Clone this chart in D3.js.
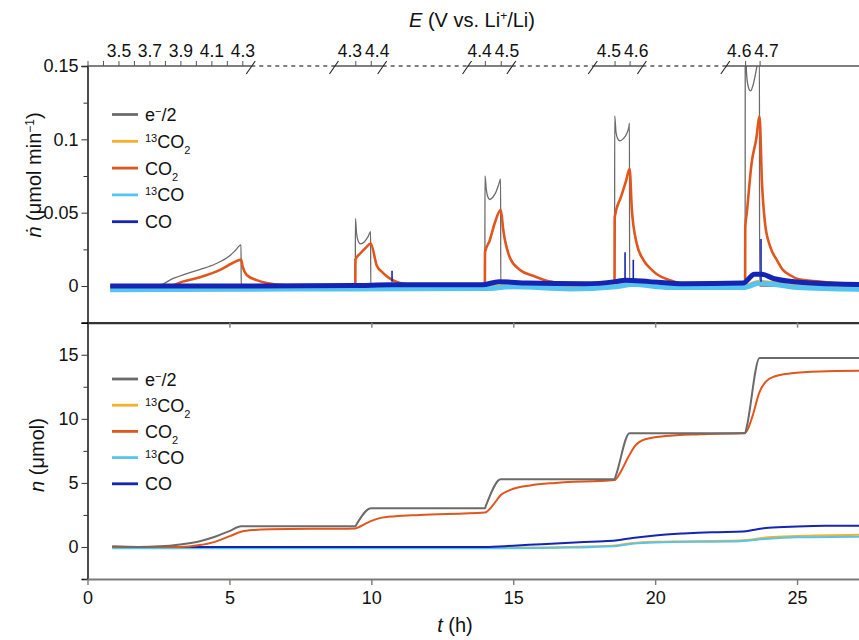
<!DOCTYPE html>
<html>
<head>
<meta charset="utf-8">
<script src="https://cdn.jsdelivr.net/npm/d3@7"></script>
<style>
  body { margin: 0; background: #fff; }
  svg { font-family: "Liberation Sans", Arial, "DejaVu Sans", sans-serif; }
</style>
</head>
<body>
<div id="chart"></div>
<script>
// ---- data: [t (h), value] ----
// top panel: rates (umol min-1)
const eRate = [[0.8,0],[2.45,0],[3.0,0.005],[3.5,0.0085],[4.0,0.0115],[4.5,0.015],[5.0,0.0205],[5.2,0.024],[5.41,0.028],[5.415,0],
  [9.435,0],[9.44,0.046],[9.48,0.036],[9.54,0.0305],[9.62,0.0287],[9.75,0.030],[9.88,0.0335],[9.975,0.037],[9.98,0],
  [14.0,0],[14.005,0.075],[14.05,0.066],[14.1,0.061],[14.17,0.059],[14.28,0.0605],[14.4,0.0645],[14.5,0.070],[14.555,0.073],[14.56,0],
  [18.57,0],[18.575,0.116],[18.62,0.105],[18.68,0.1005],[18.76,0.099],[18.88,0.1005],[19.0,0.104],[19.08,0.109],[19.095,0.111],[19.1,0],
  [23.17,0],[23.175,0.17],[23.22,0.145],[23.28,0.136],[23.36,0.133],[23.45,0.137],[23.55,0.146],[23.63,0.155],[23.675,0.16],[23.68,0],[27.2,0]];
const co2Rate = [[0.8,0],[2.9,0],[3.35,0.003],[3.96,0.006],[4.67,0.011],[5.1,0.0155],[5.41,0.018],[5.47,0.013],[5.61,0.0075],[5.96,0.004],[6.31,0.002],[7.0,0.0005],
  [9.435,0],[9.44,0.018],[9.6,0.022],[9.8,0.026],[9.98,0.029],[10.19,0.014],[10.41,0.009],[10.66,0.005],[11.01,0.002],[11.6,0.0005],
  [14.0,0],[14.005,0.023],[14.17,0.031],[14.35,0.043],[14.56,0.052],[14.65,0.038],[14.89,0.019],[15.24,0.011],[15.7,0.007],[16.12,0.004],[16.65,0.002],[17.5,0.0005],
  [18.57,0],[18.575,0.047],[18.8,0.061],[18.98,0.072],[19.1,0.080],[19.18,0.052],[19.35,0.029],[19.58,0.018],[19.88,0.011],[20.1,0.0075],[20.52,0.004],[21.23,0.001],
  [23.17,0],[23.175,0.040],[23.23,0.050],[23.40,0.084],[23.56,0.100],[23.68,0.1155],[23.76,0.072],[23.87,0.043],[24.05,0.027],[24.28,0.018],[24.5,0.011],[24.75,0.0075],[25.0,0.005],[25.8,0.003],[26.87,0.001],[27.2,0.0005]];
const c13o2Rate = [[0.8,-0.002],[5.0,-0.0018],[9.4,-0.0015],[14.0,-0.0012],[15.0,0.0],[17.0,-0.0015],[18.6,0.0],[19.2,0.0015],[20.5,-0.0005],[23.1,-0.0005],[23.7,0.0025],[25.0,-0.0005],[27.2,-0.0018]];
const c13oRate = [[0.8,-0.0025],[5.0,-0.0022],[9.4,-0.002],[14.0,-0.0017],[15.0,-0.0005],[17.0,-0.002],[18.6,-0.0005],[19.2,0.001],[20.5,-0.001],[23.1,-0.001],[23.7,0.002],[25.0,-0.001],[27.2,-0.0022]];
const coRate = [[0.8,0],[5.0,0],[9.4,0.0003],[10.7,0.0008],[13.9,0.0008],[14.5,0.003],[15.5,0.002],[17.5,0.0015],[18.6,0.003],
  [18.95,0.004],[19.8,0.003],[21.0,0.0015],[23.1,0.002],[23.5,0.008],[23.75,0.008],[24.2,0.005],[25.5,0.002],[27.2,0.001]];
// narrow CO spikes: [t, top value]
const coSpikes = [[10.73,0.0105],[18.94,0.023],[19.23,0.018],[23.73,0.032]];

// bottom panel: cumulative amounts (umol)
const eSum = [[0.87,0.05],[1.8,0.0],[2.55,0.05],[3.26,0.2],[3.96,0.45],[4.49,0.8],[5.02,1.25],[5.41,1.62],
  [9.435,1.62],[9.5,1.85],[9.98,3.02],[14.0,3.02],[14.05,3.3],[14.56,5.29],[18.57,5.29],[18.62,5.6],[19.1,8.88],
  [23.17,8.88],[23.22,9.3],[23.68,14.74],[27.2,14.74]];
const co2Sum = [[0.87,0],[3.26,0],[3.96,0.15],[4.49,0.4],[5.02,0.85],[5.44,1.2],[5.9,1.33],[6.43,1.38],[9.435,1.45],
  [9.78,1.8],[10.03,2.05],[10.3,2.25],[10.84,2.4],[11.7,2.5],[14.0,2.68],[14.3,3.3],[14.56,4.05],[14.9,4.45],[15.6,4.8],[16.5,5.0],[18.57,5.22],
  [18.77,5.8],[19.05,7.0],[19.3,7.9],[19.65,8.4],[20.35,8.65],[21.6,8.8],[23.17,8.9],[23.4,10.0],[23.68,12.1],[23.9,12.9],[24.2,13.3],[24.8,13.55],[25.8,13.7],[27.2,13.75]];
const c13o2Sum = [[0.87,-0.05],[15.0,-0.05],[17.0,0.0],[18.5,0.1],[19.2,0.3],[20.0,0.4],[23.0,0.5],[24.0,0.75],[25.0,0.85],[27.2,0.95]];
const c13oSum = [[0.87,-0.1],[15.0,-0.1],[17.0,-0.05],[18.5,0.05],[19.2,0.25],[20.0,0.35],[23.0,0.45],[24.0,0.65],[25.0,0.75],[27.2,0.8]];
const coSum = [[0.87,0],[14.0,0.0],[15.0,0.1],[16.0,0.22],[17.0,0.33],[18.0,0.43],[18.6,0.5],[19.2,0.7],[20.0,0.9],[21.0,1.05],[22.0,1.15],[23.1,1.2],[23.5,1.35],[24.0,1.5],[25.0,1.6],[26.0,1.65],[27.2,1.65]];

// potential axis (top): ramp segments in E and t
const eFrom = [3.3, 4.3, 4.4, 4.5, 4.6];
const eTo = [4.3, 4.4, 4.5, 4.6, 4.7];
const eT0 = [0, 9.435, 14.0, 18.57, 23.17];
const eT1 = [5.455, 9.98, 14.56, 19.1, 23.68];
const eLabels = [[3.5, 3.7, 3.9, 4.1, 4.3], [4.3, 4.4], [4.4, 4.5], [4.5, 4.6], [4.6, 4.7]];
const eBreaks = [5.77, 8.70, 10.40, 13.39, 14.95, 17.82, 19.55, 22.49];

const xTicks = [0, 5, 10, 15, 20, 25];
const rateTicks = [0, 0.05, 0.1, 0.15];
const rateMinor = [0.025, 0.075, 0.125];
const sumTicks = [0, 5, 10, 15];
const sumMinor = [-2.5, 2.5, 7.5, 12.5];

const series = [
  { name: [["e"], ["−", "sup"], ["/2"]], color: "#6b6b6b", rate: eRate, sum: eSum, wRate: 1.3 },
  { name: [["13", "sup"], ["CO"], ["2", "sub"]], color: "#f4b12a", rate: c13o2Rate, sum: c13o2Sum, wRate: 5 },
  { name: [["CO"], ["2", "sub"]], color: "#e0561c", rate: co2Rate, sum: co2Sum, wRate: 2.6 },
  { name: [["13", "sup"], ["CO"]], color: "#55c4f0", rate: c13oRate, sum: c13oSum, wRate: 5 },
  { name: [["CO"]], color: "#1424b4", rate: coRate, sum: coSum, wRate: 5 }
];

// ---- layout ----
const W = 859, H = 640;
const left = 87.5, right = 859.5;
const topY0 = 66, sep = 322.7, botY1 = 579;

const svg = d3.select("#chart").append("svg").attr("width", W).attr("height", H);

const x = d3.scaleLinear().domain([0, 27.2]).range([left, right]);
const yRate = d3.scaleLinear().domain([-0.025, 0.15]).range([sep, topY0]);
const ySum = d3.scaleLinear().domain([-2.5, 17.5]).range([botY1, sep]);

const defs = svg.append("defs");
defs.append("clipPath").attr("id", "clipTop").append("rect")
  .attr("x", left).attr("y", topY0).attr("width", right - left).attr("height", sep - topY0);
defs.append("clipPath").attr("id", "clipBot").append("rect")
  .attr("x", left).attr("y", sep).attr("width", right - left).attr("height", botY1 - sep);

function rich(sel, parts, small) {
  parts.forEach(function (p) {
    const ts = sel.append("tspan").text(p[0]);
    if (p[1] === "sup") ts.attr("baseline-shift", "super").attr("font-size", small);
    if (p[1] === "sub") ts.attr("baseline-shift", "sub").attr("font-size", small);
    if (p[1] === "it") ts.attr("font-style", "italic");
  });
}

// ---- lines ----
const lineRate = d3.line().x(d => x(d[0])).y(d => yRate(d[1])).curve(d3.curveMonotoneX);
const lineSum = d3.line().x(d => x(d[0])).y(d => ySum(d[1])).curve(d3.curveMonotoneX);

const topLayer = svg.append("g").attr("clip-path", "url(#clipTop)");
const drawOrder = [0, 2, 1, 3, 4];
drawOrder.forEach(function (i) {
  const s = series[i];
  topLayer.append("path").datum(s.rate)
    .attr("d", lineRate).attr("fill", "none")
    .attr("stroke", s.color).attr("stroke-width", s.wRate)
    .attr("stroke-linejoin", "round");
});
topLayer.selectAll(".spike").data(coSpikes).enter().append("line")
  .attr("class", "spike")
  .attr("x1", d => x(d[0])).attr("x2", d => x(d[0]))
  .attr("y1", yRate(0.003)).attr("y2", d => yRate(d[1]))
  .attr("stroke", series[4].color).attr("stroke-width", 1.6);

const botLayer = svg.append("g").attr("clip-path", "url(#clipBot)");
[1, 3, 4, 2, 0].forEach(function (i) {
  const s = series[i];
  botLayer.append("path").datum(s.sum)
    .attr("d", lineSum).attr("fill", "none")
    .attr("stroke", s.color).attr("stroke-width", 2);
});

// ---- axes ----
const tickFont = "18px";

// top y axis
const yAxTop = svg.append("g").attr("transform", `translate(${left},0)`)
  .call(d3.axisLeft(yRate).tickValues(rateTicks).tickSize(6).tickPadding(3)
    .tickFormat(d => d === 0 ? "0" : String(d)));
svg.append("g").attr("transform", `translate(${left},0)`)
  .call(d3.axisLeft(yRate).tickValues(rateMinor).tickSize(4).tickFormat(""))
  .select(".domain").remove();

// bottom y axis
const yAxBot = svg.append("g").attr("transform", `translate(${left},0)`)
  .call(d3.axisLeft(ySum).tickValues(sumTicks).tickSize(6).tickPadding(3));
svg.append("g").attr("transform", `translate(${left},0)`)
  .call(d3.axisLeft(ySum).tickValues(sumMinor).tickSize(4).tickFormat(""))
  .select(".domain").remove();

[yAxTop, yAxBot].forEach(function (g) {
  g.select(".domain").attr("stroke", "#000").attr("stroke-width", 1.4);
  g.selectAll("text").attr("font-size", tickFont).attr("fill", "#111")
    .attr("font-family", "Liberation Sans, Arial, sans-serif");
});
svg.selectAll(".tick line").attr("stroke", "#333");

// separator (top panel x axis)
const sepAx = svg.append("g").attr("transform", `translate(0,${sep})`)
  .call(d3.axisBottom(x).tickValues(xTicks.slice(1)).tickSize(5).tickFormat("").tickSizeOuter(0));
sepAx.select(".domain").attr("stroke", "#333").attr("stroke-width", 2.2);
sepAx.selectAll(".tick line").attr("stroke", "#888").attr("stroke-width", 1.5);

// bottom x axis
const xAx = svg.append("g").attr("transform", `translate(0,${botY1})`)
  .call(d3.axisBottom(x).tickValues(xTicks).tickSize(6).tickPadding(6).tickSizeOuter(0));
xAx.select(".domain").attr("stroke", "#7a7a7a").attr("stroke-width", 2.2);
xAx.selectAll(".tick line").attr("stroke", "#7a7a7a").attr("stroke-width", 1.4);
xAx.selectAll("text").attr("font-size", tickFont).attr("fill", "#111")
  .attr("font-family", "Liberation Sans, Arial, sans-serif");

// ---- potential (E) axis on top ----
const eAx = svg.append("g");
const axisCol = "#555";
// segments between breaks: solid / dashed alternately
const edges = [0].concat(eBreaks).concat([27.2]);
for (let k = 0; k < edges.length - 1; k++) {
  eAx.append("line")
    .attr("x1", x(edges[k])).attr("x2", x(edges[k + 1]))
    .attr("y1", topY0).attr("y2", topY0)
    .attr("stroke", axisCol).attr("stroke-width", 1.3)
    .attr("stroke-dasharray", k % 2 === 1 ? "4,4" : null);
}
eBreaks.forEach(function (b) {
  eAx.append("line")
    .attr("x1", x(b) - 5).attr("y1", topY0 + 8)
    .attr("x2", x(b) + 4).attr("y2", topY0 - 5)
    .attr("stroke", "#222").attr("stroke-width", 1.1);
});
for (let s = 0; s < eFrom.length; s++) {
  const eScale = d3.scaleLinear().domain([eFrom[s], eTo[s]]).range([x(eT0[s]), x(eT1[s])]);
  const n = Math.round((eTo[s] - eFrom[s]) / 0.1);
  const vals = s === 0 ? d3.range(n + 1).map(i => +(eFrom[s] + i * 0.1).toFixed(1)) : eLabels[s];
  const g = eAx.append("g").attr("transform", `translate(0,${topY0})`)
    .call(d3.axisTop(eScale).tickValues(vals).tickSize(5).tickPadding(4).tickSizeOuter(0)
      .tickFormat(d => eLabels[s].some(v => Math.abs(v - d) < 1e-6) ? d3.format(".1f")(d) : ""));
  g.select(".domain").remove();
  g.selectAll(".tick line").attr("stroke", axisCol);
  const txt = g.selectAll("text").attr("font-size", "17.5px").attr("fill", "#111")
    .attr("font-family", "Liberation Sans, Arial, sans-serif");
  // closely spaced pairs: labels pushed apart around the pair's midpoint
  if (s > 0) {
    const half = (eScale(eTo[s]) - eScale(eFrom[s])) / 2;
    txt.attr("text-anchor", (d, i) => i === 0 ? "end" : "start")
      .attr("x", (d, i) => i === 0 ? half - 1.5 : -half + 1.5);
  }
}

// ---- titles ----
const tt = svg.append("text").attr("x", 472).attr("y", 27).attr("text-anchor", "middle")
  .attr("font-size", "20px").attr("fill", "#111");
rich(tt, [["E", "it"], [" (V vs. Li"], ["+", "sup"], ["/Li)"]], "12px");

const yl1 = svg.append("text").attr("transform", "translate(41,175) rotate(-90)")
  .attr("text-anchor", "middle").attr("font-size", "20px").attr("fill", "#111");
rich(yl1, [["ṅ", "it"], [" (μmol min"], ["−1", "sup"], [")"]], "12px");

const yl2 = svg.append("text").attr("transform", "translate(44,455) rotate(-90)")
  .attr("text-anchor", "middle").attr("font-size", "20px").attr("fill", "#111");
rich(yl2, [["n", "it"], [" (μmol)"]], "12px");

const xl = svg.append("text").attr("x", 455).attr("y", 632).attr("text-anchor", "middle")
  .attr("font-size", "20px").attr("fill", "#111");
rich(xl, [["t", "it"], [" (h)"]], "12px");

// ---- legends ----
function legend(y0, dy) {
  const g = svg.append("g");
  series.forEach(function (s, i) {
    const yy = y0 + i * dy;
    g.append("line").attr("x1", 112).attr("x2", 138).attr("y1", yy).attr("y2", yy)
      .attr("stroke", s.color).attr("stroke-width", 2.8);
    const t = g.append("text").attr("x", 145).attr("y", yy + 6.5)
      .attr("font-size", "18px").attr("fill", "#111");
    rich(t, s.name, "11px");
  });
}
legend(114.5, 26.8);
legend(379, 26.2);
</script>
</body>
</html>
